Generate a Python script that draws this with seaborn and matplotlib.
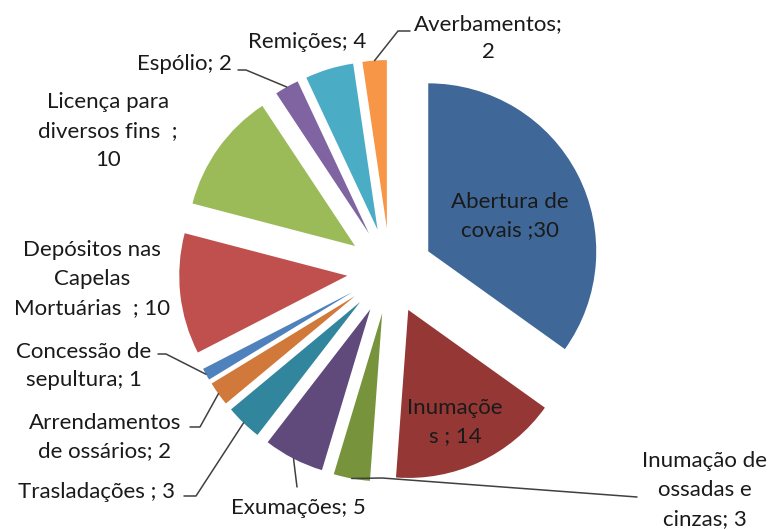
import matplotlib
matplotlib.use("Agg")
import matplotlib.pyplot as plt
import numpy as np
import seaborn as sns

sns.set_theme(style="white")
plt.rcParams['font.family'] = ['Lato', 'DejaVu Sans']

# data
categories = ['Abertura de covais', 'Inumações', 'Inumação de ossadas e cinzas', 'Exumações',
              'Trasladações', 'Arrendamentos de ossários', 'Concessão de sepultura',
              'Depósitos nas Capelas Mortuárias', 'Licença para diversos fins',
              'Espólio', 'Remições', 'Averbamentos']
values = [30, 14, 3, 5, 3, 2, 1, 10, 10, 2, 4, 2]
label_texts = ['Abertura de\ncovais ;30', 'Inumaçõe\ns ; 14', 'Inumação de\nossadas e\ncinzas; 3',
               'Exumações; 5', 'Trasladações ; 3', 'Arrendamentos\nde ossários; 2',
               'Concessão de\nsepultura; 1', 'Depósitos nas\nCapelas\nMortuárias  ; 10',
               'Licença para\ndiversos fins  ;\n10', 'Espólio; 2', 'Remições; 4', 'Averbamentos;\n2']

colors = ['#3F6798', '#953735', '#77933C', '#604A7B', '#31859C', '#D0793A',
          '#4F81BD', '#C0504D', '#9BBB59', '#8064A2', '#4BACC6', '#F79646']

# layout (pixel coordinates, y down)
cx, cy, R = 390, 271, 168
label_pos = [(510, 216), (455, 422), (705, 490), (298, 508), (97, 492), (105, 437),
             (84, 366), (92, 279), (108, 131), (184, 64), (307, 42), (488, 38)]
# elbow points of leader lines (from text to wedge)
elbows = {2: [(637, 497), (382, 478)], 3: [(297, 487)], 4: [(184, 496), (196, 496)],
          5: [(190, 427), (200, 427)], 6: [(158, 354), (166, 354)],
          9: [(238, 70), (246, 70)], 11: [(410, 31), (398, 31)]}

fig = plt.figure(figsize=(7.73, 5.30), dpi=100)
ax = fig.add_axes([0, 0, 1, 1])
wedges, _ = ax.pie(values, colors=colors, radius=R, center=(cx, cy),
                   startangle=-90, counterclock=True,
                   explode=[43] * len(values),
                   wedgeprops=dict(linewidth=0))
ax.set_xlim(0, 773)
ax.set_ylim(530, 0)
ax.set_aspect('equal')
ax.axis('off')

for i, w in enumerate(wedges):
    x, y = label_pos[i]
    ax.text(x, y, label_texts[i], ha='center', va='center', fontsize=16,
            color='#1a1a1a', linespacing=1.55)
    if i in elbows:
        mid = np.deg2rad((w.theta1 + w.theta2) / 2)
        ax0 = w.center[0] + w.r * np.cos(mid)
        ay0 = w.center[1] + w.r * np.sin(mid)
        pts = elbows[i] + [(ax0, ay0)]
        ax.plot([p[0] for p in pts], [p[1] for p in pts], color='#404040', lw=1.1)

fig.savefig('out.png', dpi=100)
